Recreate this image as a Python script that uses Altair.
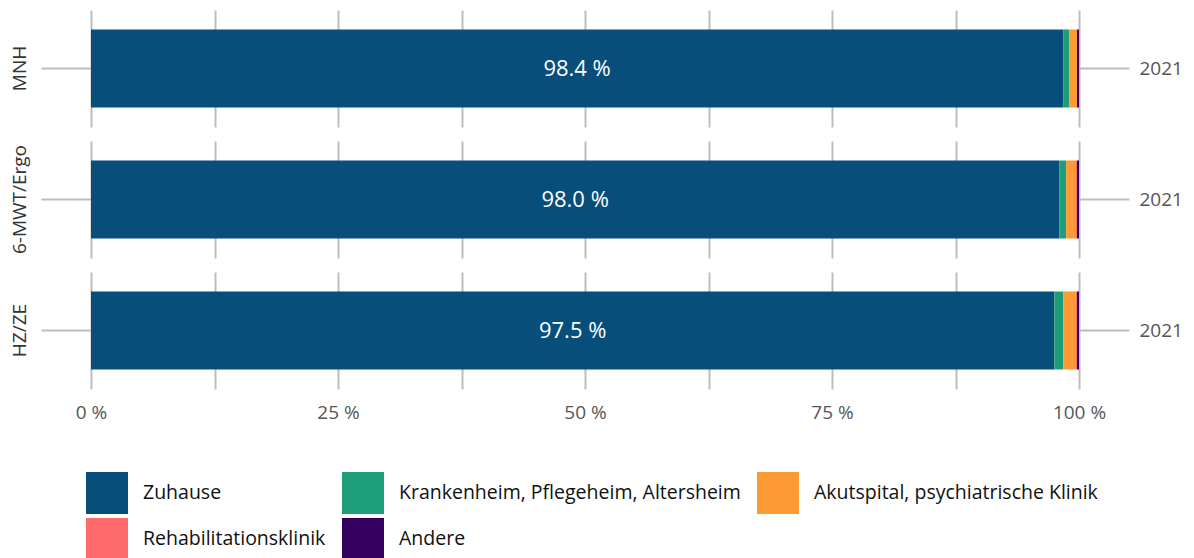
import altair as alt
import pandas as pd

groups = ["MNH", "6-MWT/Ergo", "HZ/ZE"]
year = "2021"
categories = [
    "Zuhause",
    "Krankenheim, Pflegeheim, Altersheim",
    "Akutspital, psychiatrische Klinik",
    "Rehabilitationsklinik",
    "Andere",
]
colors = ["#084e7a", "#1d9e78", "#fd9a33", "#ff6b6b", "#33005f"]
mnh_values = [98.4, 0.6, 0.8, 0.0, 0.2]
mwt_values = [98.0, 0.7, 1.0, 0.1, 0.2]
hz_values = [97.5, 0.9, 1.3, 0.1, 0.2]
tick_values = [0, 12.5, 25, 37.5, 50, 62.5, 75, 87.5, 100]

rows = []
for g, vals in zip(groups, [mnh_values, mwt_values, hz_values]):
    for i, (c, v) in enumerate(zip(categories, vals)):
        rows.append({"Gruppe": g, "Jahr": year, "Kategorie": c, "Anteil": v, "ord": i})
df = pd.DataFrame(rows)

GRID = "#bdbdbd"

xenc = alt.X(
    "Anteil:Q",
    stack="zero",
    scale=alt.Scale(domain=[0, 100], nice=False),
    axis=alt.Axis(
        values=tick_values,
        labelExpr="datum.value % 25 == 0 ? datum.value + ' %' : ''",
        grid=True,
        gridColor=GRID,
        gridWidth=2,
        ticks=False,
        domain=False,
        labelFlush=False,
        labelFontSize=19,
        labelColor="#555555",
        labelPadding=14,
        title=None,
    ),
)

yscale = alt.Scale(paddingInner=0, paddingOuter=0.25)

bars = alt.Chart(df).mark_bar().encode(
    x=xenc,
    y=alt.Y(
        "Jahr:N",
        scale=yscale,
        axis=alt.Axis(
            orient="right",
            tickSize=50,
            tickColor=GRID,
            tickWidth=2,
            domain=False,
            labelFontSize=19,
            labelColor="#555555",
            labelPadding=10,
            title=None,
        ),
    ),
    color=alt.Color(
        "Kategorie:N",
        scale=alt.Scale(domain=categories, range=colors),
        legend=alt.Legend(title=None),
    ),
    order=alt.Order("ord:Q"),
)

labels = (
    alt.Chart(df)
    .transform_filter(alt.datum.Kategorie == "Zuhause")
    .transform_calculate(
        mid="datum.Anteil / 2",
        txt="format(datum.Anteil, '.1f') + ' %'",
    )
    .mark_text(color="white", fontSize=22)
    .encode(
        x=alt.X("mid:Q"),
        y=alt.Y(
            "Jahr:N",
            scale=yscale,
            axis=alt.Axis(
                orient="left",
                labels=False,
                tickSize=50,
                tickColor=GRID,
                tickWidth=2,
                domain=False,
                labelPadding=0,
                title=None,
            ),
        ),
        text="txt:N",
    )
)

layer = alt.layer(bars, labels).resolve_axis(y="independent").properties(width=988, height=117)

chart = (
    layer.facet(
        row=alt.Row(
            "Gruppe:N",
            sort=groups,
            title=None,
            header=alt.Header(
                labelAngle=-90,
                labelOrient="left",
                labelFontSize=19,
                labelColor="#333333",
                labelPadding=1,
            ),
        ),
        spacing=14,
    )
    .configure(font="Open Sans")
    .configure_view(stroke=None)
    .configure_legend(
        orient="none",
        direction="horizontal",
        legendX=-5,
        legendY=462,
        columns=3,
        symbolType="square",
        symbolSize=1764,
        symbolStrokeWidth=0,
        symbolOpacity=1,
        labelFontSize=19.5,
        labelColor="#111111",
        labelLimit=0,
        rowPadding=4,
        columnPadding=16,
        labelOffset=15,
    )
    .properties(padding={"left": 3, "top": 2, "right": 2, "bottom": 2})
)

chart.save("out.html", embed_options={"renderer": "svg", "actions": False})
